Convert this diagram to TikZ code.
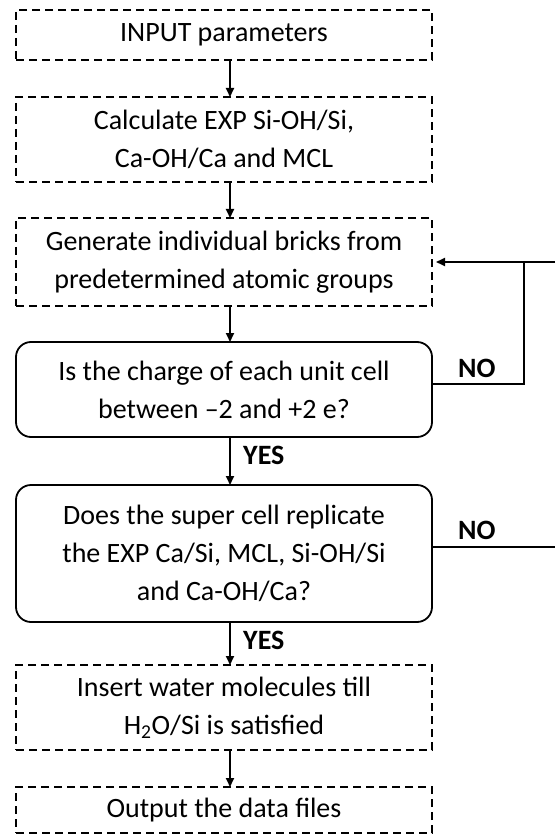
\documentclass[tikz,border=0pt]{standalone}
\usepackage{fontspec}
\setmainfont{Carlito}
\usetikzlibrary{arrows.meta,calc}
\begin{document}
\begin{tikzpicture}[x=1pt,y=-1pt,
  box/.style={draw, line width=1.8pt, minimum width=416pt, inner sep=0pt, outer sep=0pt, align=center, font=\fontsize{28}{38}\selectfont},
  dashbox/.style={box, dash pattern=on 8pt off 5pt},
  roundbox/.style={box, rounded corners=15pt},
  arr/.style={line width=1.8pt, -{Triangle[length=9pt,width=8pt]}},
  lin/.style={line width=1.8pt},
  lbl/.style={font=\fontsize{28}{34}\selectfont\bfseries, inner sep=0pt}
]
\useasboundingbox (0,0) rectangle (555,834);
\coordinate (ax) at (230,0);
\coordinate (jx) at (524,0);
\coordinate (rx) at (555,0);

\node[dashbox, minimum height=50pt] (b1) at (224,35) {INPUT parameters};
\node[dashbox, minimum height=85pt] (b2) at (224,139.5) {Calculate EXP Si-OH/Si,\\Ca-OH/Ca and MCL};
\node[dashbox, minimum height=88pt] (b3) at (224,262) {Generate individual bricks from\\predetermined atomic groups};
\node[roundbox, minimum height=95pt] (b4) at (224,389.5) {Is the charge of each unit cell\\between –2 and +2 e?};
\node[roundbox, minimum height=137pt] (b5) at (224,553.5) {Does the super cell replicate\\the EXP Ca/Si, MCL, Si-OH/Si\\and Ca-OH/Ca?};
\node[dashbox, minimum height=85pt] (b6) at (224,707.5) {Insert water molecules till\\H\textsubscript{2}O/Si is satisfied};
\node[dashbox, minimum height=46pt] (b7) at (224,810) {Output the data files};

\coordinate (e4) at ([yshift=5.5pt]b4.east);
\coordinate (e5) at ([yshift=6.5pt]b5.east);

\draw[arr] (b1.south -| ax) -- (b2.north -| ax);
\draw[arr] (b2.south -| ax) -- (b3.north -| ax);
\draw[arr] (b3.south -| ax) -- (b4.north -| ax);
\draw[arr] (b4.south -| ax) -- (b5.north -| ax);
\draw[arr] (b5.south -| ax) -- (b6.north -| ax);
\draw[arr] (b6.south -| ax) -- (b7.north -| ax);

\node[lbl, anchor=west] (y1) at (243,455) {YES};
\node[lbl, anchor=west] (y2) at (243,640) {YES};
\node[lbl, anchor=west] (n1) at (458,368) {NO};
\node[lbl, anchor=west] (n2) at (458,530) {NO};

\draw[lin] (e4) -| (jx |- b3.east);
\draw[arr, shorten >=4pt] (rx |- b3.east) -- (b3.east);
\draw[lin] (e5) -- (rx |- e5);
\end{tikzpicture}
\end{document}
